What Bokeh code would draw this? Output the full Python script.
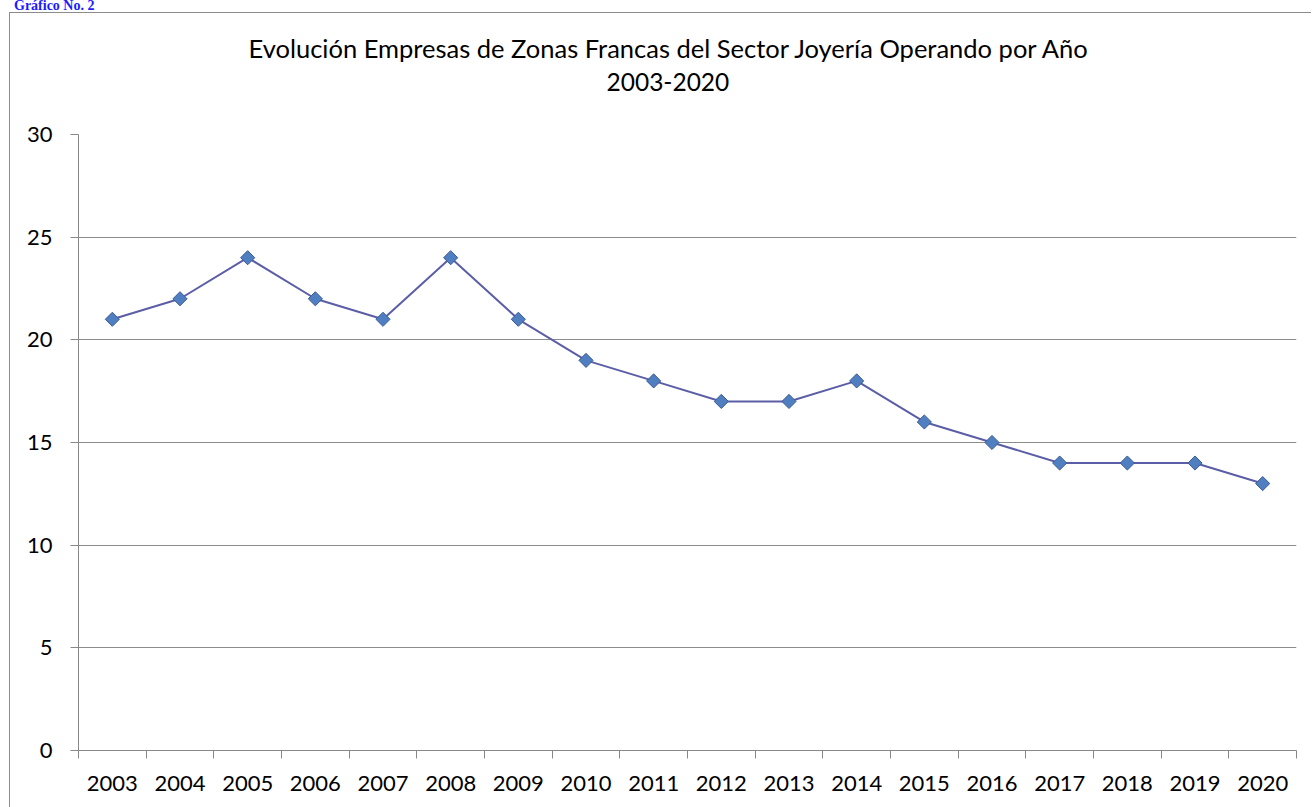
import math
from bokeh.plotting import figure
from bokeh.models import Range1d, FixedTicker, Title, Div
from bokeh.layouts import column
from bokeh.embed import file_html
from bokeh.resources import INLINE

years = ["2003", "2004", "2005", "2006", "2007", "2008", "2009", "2010", "2011",
         "2012", "2013", "2014", "2015", "2016", "2017", "2018", "2019", "2020"]
empresas = [21, 22, 24, 22, 21, 24, 21, 19, 18, 17, 17, 18, 16, 15, 14, 14, 14, 13]
y_ticks = [0, 5, 10, 15, 20, 25, 30]
title_line1 = "Evolución Empresas de Zonas Francas del Sector Joyería Operando por Año"
title_line2 = "2003-2020"
header = "Gráfico No. 2"

FONT = "Lato"
n = len(years)
xs = [i + 0.5 for i in range(n)]

header_div = Div(text=header, width=300, height=12, margin=(0, 0, 0, 14),
                 styles={"font-family": "'Liberation Serif', serif", "font-weight": "bold",
                         "font-size": "14px", "color": "#1a1aff", "line-height": "12px",
                         "overflow": "visible", "white-space": "nowrap"})

p = figure(width=1302, height=795, output_backend="svg", toolbar_location=None, title=None,
           x_range=Range1d(0, n), y_range=Range1d(0, 30),
           min_border_left=68, min_border_right=16, min_border_top=121, min_border_bottom=58,
           margin=(0, 0, 0, 9),
           styles={"border-left": "1.5px solid #8c8c8c", "border-top": "1.5px solid #8c8c8c"})
p.outline_line_color = None
p.background_fill_color = "white"
p.border_fill_color = "white"

# x axis: labels at category centres, ticks at category boundaries
p.xaxis.ticker = FixedTicker(ticks=xs, minor_ticks=list(range(n + 1)))
p.xaxis.major_label_overrides = {x: y for x, y in zip(xs, years)}
p.xaxis.major_tick_out = 0
p.xaxis.major_tick_in = 0
p.xaxis.minor_tick_out = 8
p.xaxis.minor_tick_in = 0
p.xaxis.minor_tick_line_color = "#888888"
p.xaxis.axis_line_color = "#888888"
p.xaxis.major_label_text_font = FONT
p.xaxis.major_label_text_font_size = "22px"
p.xaxis.major_label_text_color = "black"
p.xaxis.major_label_standoff = 17

p.yaxis.ticker = FixedTicker(ticks=y_ticks)
p.yaxis.major_tick_out = 8
p.yaxis.major_tick_in = 0
p.yaxis.minor_tick_line_color = None
p.yaxis.major_tick_line_color = "#888888"
p.yaxis.axis_line_color = "#888888"
p.yaxis.major_label_text_font = FONT
p.yaxis.major_label_text_font_size = "22px"
p.yaxis.major_label_text_color = "black"
p.yaxis.major_label_standoff = 18

p.xgrid.grid_line_color = None
p.ygrid.ticker = FixedTicker(ticks=y_ticks)
p.ygrid.grid_line_color = "#8c8c8c"
p.ygrid.grid_line_width = 1

p.line(xs, empresas, line_color="#5b5ea6", line_width=2)
p.scatter(xs, empresas, marker="square", size=10, angle=math.pi / 4,
          fill_color="#4f7fc0", line_color="#3d5a94", line_width=1)

# titles stacked above the frame (first added is nearest the frame)
p.add_layout(Title(text=" ", text_font_size="10px", standoff=31), "above")
p.add_layout(Title(text=title_line2, align="left", offset=528, text_font=FONT,
                   text_font_size="24.5px", text_font_style="normal", text_color="black",
                   standoff=0), "above")
p.add_layout(Title(text=title_line1, align="left", offset=170, text_font=FONT,
                   text_font_size="25.5px", text_font_style="normal", text_color="black",
                   standoff=15), "above")

layout = column(header_div, p, spacing=0, margin=0)
open("out.html", "w").write(file_html(layout, INLINE))
